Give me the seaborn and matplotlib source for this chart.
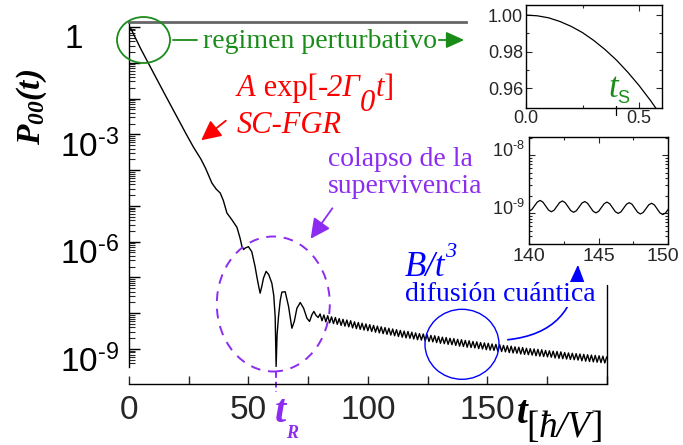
import numpy as np
import pandas as pd
import matplotlib
matplotlib.use("Agg")
import matplotlib.pyplot as plt
import seaborn as sns
from matplotlib.patches import Ellipse, FancyArrowPatch
from matplotlib.lines import Line2D
from matplotlib.transforms import ScaledTranslation, blended_transform_factory
from matplotlib.ticker import FixedLocator, FuncFormatter, NullFormatter, LogLocator

# ---- survival probability P00(t), stored as log10 values ----
early_t = [0, 0.6, 5, 10, 15, 20, 24, 27, 30, 32,
           34.7, 36.5, 38.2, 39.5, 41.0, 43.1, 45.2, 46.5, 47.3, 48.0,
           48.6, 50.0, 51.4, 52.8, 53.5, 54.3, 54.9, 55.6, 56.3, 57.4,
           58.5, 59.8, 60.6, 61.2, 61.6, 62.0, 62.6, 63.3, 64.0, 65.4,
           66.8, 67.6, 68.2, 69.2, 70.3, 71.7, 73.1, 74.5, 75.6, 76.6,
           77.4, 78.3, 79.2]
early_log = [0, -0.02, -0.62, -1.25, -1.88, -2.50, -3.00, -3.36, -3.68, -3.94,
             -4.36, -4.53, -4.64, -4.85, -5.20, -5.39, -5.60, -5.90, -6.14, -6.22,
             -6.18, -6.14, -6.28, -6.70, -6.97, -7.25, -7.44, -7.25, -7.02, -6.83,
             -6.92, -7.16, -7.50, -8.10, -9.49, -8.60, -8.09, -7.65, -7.41, -7.40,
             -7.81, -8.15, -8.42, -8.23, -7.86, -7.70, -7.86, -8.14, -8.23, -8.04,
             -7.95, -8.06, -8.12]

# long-time oscillating tail, sampled every half period starting at t = 80
tail_start, tail_step = 80.0, 0.8
tail_log = [-8.02, -8.21, -8.05, -8.24, -8.07, -8.27, -8.10, -8.29, -8.12, -8.31,
            -8.15, -8.34, -8.17, -8.36, -8.19, -8.38, -8.21, -8.41, -8.24, -8.43,
            -8.26, -8.45, -8.28, -8.47, -8.30, -8.49, -8.32, -8.51, -8.34, -8.53,
            -8.36, -8.55, -8.38, -8.57, -8.40, -8.59, -8.42, -8.61, -8.44, -8.63,
            -8.46, -8.65, -8.48, -8.67, -8.50, -8.69, -8.51, -8.70, -8.53, -8.72,
            -8.55, -8.74, -8.57, -8.75, -8.58, -8.77, -8.60, -8.79, -8.62, -8.80,
            -8.63, -8.82, -8.65, -8.84, -8.67, -8.85, -8.68, -8.87, -8.70, -8.88,
            -8.71, -8.90, -8.73, -8.92, -8.74, -8.93, -8.76, -8.95, -8.77, -8.96,
            -8.79, -8.97, -8.80, -8.99, -8.82, -9.00, -8.83, -9.02, -8.84, -9.03,
            -8.86, -9.04, -8.87, -9.06, -8.88, -9.07, -8.90, -9.08, -8.91, -9.10,
            -8.92, -9.11, -8.94, -9.12, -8.95, -9.14, -8.96, -9.15, -8.98, -9.16,
            -8.99, -9.17, -9.00, -9.19, -9.01, -9.20, -9.02, -9.21, -9.04, -9.22,
            -9.05, -9.23, -9.06, -9.25, -9.07, -9.26, -9.08, -9.27, -9.10, -9.28,
            -9.11, -9.29, -9.12, -9.30, -9.13, -9.31, -9.14, -9.33, -9.15, -9.34,
            -9.16, -9.35, -9.17, -9.36, -9.18, -9.37, -9.19, -9.38, -9.20, -9.39,
            -9.22]

# short-time (perturbative) window
short_t = [0, 0.05, 0.10, 0.15, 0.20, 0.25, 0.30, 0.35, 0.40, 0.45, 0.50, 0.55, 0.60]
short_p = [1.0, 0.9996, 0.9985, 0.9965, 0.9938, 0.9904, 0.9861, 0.9811,
           0.9754, 0.9688, 0.9615, 0.9534, 0.9446]
t_s = 0.40

# detail of the tail between t = 140 and t = 150, sampled every 0.2
zoom_start, zoom_step = 140.0, 0.2
zoom_log = [-8.965, -8.938, -8.872, -8.807, -8.780, -8.809, -8.877, -8.945,
            -8.975, -8.948, -8.882, -8.816, -8.789, -8.819, -8.887, -8.955,
            -8.984, -8.957, -8.892, -8.826, -8.799, -8.828, -8.896, -8.965,
            -8.994, -8.967, -8.901, -8.835, -8.809, -8.838, -8.906, -8.974,
            -9.003, -8.977, -8.911, -8.845, -8.818, -8.847, -8.916, -8.984,
            -9.013, -8.986, -8.920, -8.855, -8.828, -8.857, -8.925, -8.993,
            -9.023, -8.996, -8.930]
zoom_ticks = [140, 145, 150]

t_R = 61.6

main_t = list(early_t) + list(tail_start + tail_step * np.arange(len(tail_log)))
main_df = pd.DataFrame({"t": main_t,
                        "P": 10.0 ** np.array(list(early_log) + list(tail_log))})
short_df = pd.DataFrame({"t": short_t, "P": short_p})
zoom_df = pd.DataFrame({"t": zoom_start + zoom_step * np.arange(len(zoom_log)),
                        "P": 10.0 ** np.array(zoom_log)})

# ---- style ----
sns.set_theme(style="ticks")
plt.rcParams.update({
    "font.family": ["Liberation Sans", "DejaVu Sans"],
    "mathtext.fontset": "custom",
    "mathtext.rm": "Liberation Serif",
    "mathtext.it": "Liberation Serif:italic",
    "mathtext.bf": "Liberation Serif:italic:bold",
    "axes.unicode_minus": False,
    "xtick.direction": "in",
    "ytick.direction": "in",
})

W, H = 683, 445
fig = plt.figure(figsize=(W / 100, H / 100), dpi=100)
fig.patch.set_facecolor("white")


def fp(x, y):
    """pixel position (from top-left) -> figure fraction"""
    return x / W, 1 - y / H


def power_label(e):
    sign = "\u2010" if e < 0 else ""
    return r"$\mathdefault{10^{%s%d}}$" % (sign, abs(e))


GREEN = "#1a8c1a"
RED = "#ff0000"
PURPLE = "#8c2cf0"
BLUE = "#0000ff"
SERIF = "Liberation Serif"

# ---- main panel ----
ax = fig.add_axes([129 / W, 1 - 367 / H, 477.7 / W, 345 / H])
ax.set_yscale("log")
sns.lineplot(data=main_df, x="t", y="P", ax=ax, color="black", lw=1.0,
             estimator=None, sort=False)
ax.set_xlim(0, 200)
ax.set_ylim(10 ** -9.503, 10 ** 0.14)
ax.set_xlabel("")
ax.set_ylabel("")

ax.xaxis.set_major_locator(FixedLocator([0, 25, 50, 75, 100, 125, 150, 175, 200]))
ax.xaxis.set_major_formatter(FuncFormatter(
    lambda v, p: f"{v:.0f}" if (round(v) % 50 == 0 and v < 190) else ""))
ax.yaxis.set_major_locator(FixedLocator([10.0 ** e for e in range(-9, 1)]))


def main_ylab(v, p):
    e = int(round(np.log10(v)))
    if e == 0:
        return "1"
    if e % 3 == 0:
        return power_label(e)
    return ""


ax.yaxis.set_major_formatter(FuncFormatter(main_ylab))
ax.yaxis.set_minor_locator(LogLocator(base=10, subs=np.arange(2, 10), numticks=100))
ax.yaxis.set_minor_formatter(NullFormatter())
ax.tick_params(axis="y", which="major", length=8, width=1, labelsize=24, pad=7,
               right=False, colors="black")
ax.tick_params(axis="y", which="minor", length=4, width=0.8, right=False)
ax.tick_params(axis="x", which="major", length=6, width=1, labelsize=24, pad=8,
               top=False)
ax.tick_params(axis="x", which="minor", bottom=False, top=False)

for s in ("left", "bottom"):
    ax.spines[s].set_color("black")
    ax.spines[s].set_linewidth(1.0)
ax.spines["bottom"].set_position(("outward", 17 * 0.72))
ax.spines["right"].set_visible(False)
ax.spines["top"].set_bounds(0, 141)
ax.spines["top"].set_color("#666666")
ax.spines["top"].set_linewidth(2.0)
# partial right frame next to the tail
ax.plot([1, 1], [-17 / 345, 0.238], transform=ax.transAxes, color="black",
        lw=1.0, clip_on=False)

# y tick labels sit a little below their ticks
for lab in ax.get_yticklabels():
    lab.set_transform(lab.get_transform() + ScaledTranslation(0, -9 / 100, fig.dpi_scale_trans))
for tick in ax.yaxis.get_major_ticks():
    if tick.get_loc() == 1.0:
        tick.label1.set_transform(tick.label1.get_transform()
                                  + ScaledTranslation(-36 / 100, 0, fig.dpi_scale_trans))

# t_R marker below the axis
bt = blended_transform_factory(ax.transData, ax.transAxes)
ax.plot([t_R, t_R], [-5 / 345, -25 / 345], transform=bt, color=PURPLE, lw=1.4,
        ls=(0, (3, 2)), clip_on=False)

# ---- inset: short times ----
ax1 = fig.add_axes([526 / W, 1 - 107.7 / H, 135.7 / W, 102.7 / H])
sns.lineplot(data=short_df, x="t", y="P", ax=ax1, color="black", lw=0.9,
             estimator=None, sort=False)
ax1.set_xlim(0, 0.6)
ax1.set_ylim(0.9494, 1.0055)
ax1.set_xlabel("")
ax1.set_ylabel("")
ax1.xaxis.set_major_locator(FixedLocator([0, 0.5]))
ax1.xaxis.set_minor_locator(FixedLocator([0.25]))
ax1.xaxis.set_major_formatter(FuncFormatter(lambda v, p: f"{v:.1f}"))
ax1.yaxis.set_major_locator(FixedLocator([0.96, 0.98, 1.00]))
ax1.yaxis.set_minor_locator(FixedLocator([0.97, 0.99]))
ax1.yaxis.set_major_formatter(FuncFormatter(lambda v, p: f"{v:.2f}"))
ax1.tick_params(which="both", direction="in", top=True, right=True, labelsize=13,
                pad=2, width=0.8)
ax1.tick_params(which="major", length=4)
ax1.tick_params(which="minor", length=2.5)
for s in ax1.spines.values():
    s.set_linewidth(1.0)
    s.set_color("black")
bt1 = blended_transform_factory(ax1.transData, ax1.transAxes)
ax1.plot([t_s, t_s], [0.02, -0.07], transform=bt1, color="black", lw=0.9,
         clip_on=False)

# ---- inset: tail detail ----
ax2 = fig.add_axes([529 / W, 1 - 244.3 / H, 139.3 / W, 107 / H])
ax2.set_yscale("log")
sns.lineplot(data=zoom_df, x="t", y="P", ax=ax2, color="black", lw=0.9,
             estimator=None, sort=False)
ax2.set_xlim(140, 150)
ax2.set_ylim(10 ** -9.534, 10 ** -7.695)
ax2.set_xlabel("")
ax2.set_ylabel("")
ax2.xaxis.set_major_locator(FixedLocator(zoom_ticks))
ax2.xaxis.set_minor_locator(FixedLocator([142.5, 147.5]))
ax2.xaxis.set_major_formatter(NullFormatter())
ax2.yaxis.set_major_locator(FixedLocator([1e-9, 1e-8]))
ax2.yaxis.set_major_formatter(FuncFormatter(
    lambda v, p: power_label(int(round(np.log10(v))))))
ax2.yaxis.set_minor_locator(LogLocator(base=10, subs=np.arange(2, 10), numticks=100))
ax2.yaxis.set_minor_formatter(NullFormatter())
ax2.tick_params(which="both", direction="in", top=True, right=True, width=0.8)
ax2.tick_params(which="major", length=4)
ax2.tick_params(which="minor", length=2)
ax2.tick_params(axis="y", labelsize=13, pad=3)
for lab in ax2.get_yticklabels():
    lab.set_transform(lab.get_transform() + ScaledTranslation(0, 6 / 100, fig.dpi_scale_trans))
for s in ax2.spines.values():
    s.set_linewidth(1.0)
    s.set_color("black")
# x tick labels of the detail panel; the last one is nudged to stay on the canvas
bt2 = blended_transform_factory(ax2.transData, ax2.transAxes)
for v in zoom_ticks:
    nudge = -5 / 100 if v == zoom_ticks[-1] else 0
    ax2.text(v, -0.03, f"{v}", size=14, ha="center", va="top", clip_on=False,
             transform=bt2 + ScaledTranslation(nudge, 0, fig.dpi_scale_trans))

# ---- labels and annotations ----
renderer = fig.canvas.get_renderer()


def chain(x, y, pieces, color):
    """Draw text pieces left to right on a common baseline (pixel coords)."""
    for s, kw, dy in pieces:
        t = fig.text(*fp(x, y - dy), s, color=color, ha="left", va="baseline", **kw)
        x += t.get_window_extent(renderer).width


fig.text(*fp(32, 107), r"$\mathbf{P_{00}(t)}$", rotation=90, size=24,
         ha="center", va="center", color="black")

chain(517, 423, [("t", dict(family=SERIF, style="italic", weight="bold", size=28), 0)],
      "black")
chain(526, 437, [("[", dict(family=SERIF, size=27), 0),
                 ("ħ/V", dict(family=SERIF, style="italic", size=27), 0),
                 ("]", dict(family=SERIF, size=27), 0)], "black")

# perturbative regime
fig.add_artist(Ellipse(fp(143.5, 40), 53 / W, 46 / H, transform=fig.transFigure,
                       fill=False, ec=GREEN, lw=1.3))
fig.add_artist(Line2D([173 / W, 197 / W], [1 - 40 / H, 1 - 40 / H],
                      transform=fig.transFigure, color=GREEN, lw=1.3))
fig.text(*fp(203, 48), "regimen perturbativo", family=SERIF, size=20, color=GREEN,
         ha="left", va="baseline")
fig.add_artist(FancyArrowPatch(fp(436, 40), fp(467, 40), transform=fig.transFigure,
                               arrowstyle="-|>,head_length=0.55,head_width=0.25",
                               mutation_scale=20, color=GREEN, lw=1.3))
chain(608, 97, [("t", dict(family=SERIF, style="italic", size=25), 0),
                ("S", dict(family="Liberation Sans", size=13), -6)], GREEN)

# exponential decay
chain(237, 96, [("A", dict(family=SERIF, style="italic", size=22), 0),
                (" exp[", dict(family=SERIF, size=22), 0),
                ("-2Γ", dict(family=SERIF, style="italic", size=22), 0),
                ("0", dict(family=SERIF, style="italic", size=22), -15),
                ("t", dict(family=SERIF, style="italic", size=22), 0),
                ("]", dict(family=SERIF, size=22), 0)], RED)
fig.text(*fp(237, 133), "SC-FGR", family=SERIF, style="italic", size=22, color=RED,
         ha="left", va="baseline")
fig.add_artist(FancyArrowPatch(fp(228, 119), fp(199, 142), transform=fig.transFigure,
                               arrowstyle="-|>,head_length=0.6,head_width=0.3",
                               mutation_scale=20, color=RED, lw=1.3))

# survival collapse
fig.text(*fp(328, 166), "colapso de la", family=SERIF, size=20, color=PURPLE,
         ha="left", va="baseline")
fig.text(*fp(328, 193), "supervivencia", family=SERIF, size=20, color=PURPLE,
         ha="left", va="baseline")
fig.add_artist(FancyArrowPatch(fp(334, 206), fp(309, 241), transform=fig.transFigure,
                               arrowstyle="-|>,head_length=0.6,head_width=0.3",
                               mutation_scale=20, color=PURPLE, lw=1.3))
fig.add_artist(Ellipse(fp(273.3, 304), 113 / W, 135 / H, transform=fig.transFigure,
                       fill=False, ec=PURPLE, lw=1.4, ls=(0, (5, 4))))
chain(275, 422, [("t", dict(family=SERIF, style="italic", weight="bold", size=29), 0),
                 ("R", dict(family=SERIF, style="italic", weight="bold", size=13), -16)],
      PURPLE)

# quantum diffusion
chain(405, 276, [("B/t", dict(family=SERIF, style="italic", size=25), 0),
                 ("3", dict(family=SERIF, style="italic", size=16), 19)], BLUE)
fig.text(*fp(405, 301), "difusión cuántica", family=SERIF, size=20, color=BLUE,
         ha="left", va="baseline", zorder=5,
         bbox=dict(fc="white", ec="none", pad=0.0))
fig.add_artist(Ellipse(fp(462, 344.3), 74 / W, 70 / H, transform=fig.transFigure,
                       fill=False, ec=BLUE, lw=1.0))
fig.add_artist(FancyArrowPatch(fp(505, 340), fp(578, 262), transform=fig.transFigure,
                               connectionstyle="arc3,rad=0.45",
                               arrowstyle="-|>,head_length=0.6,head_width=0.25",
                               mutation_scale=20, color=BLUE, lw=1.2, zorder=2))

fig.savefig("out.png", dpi=100)
